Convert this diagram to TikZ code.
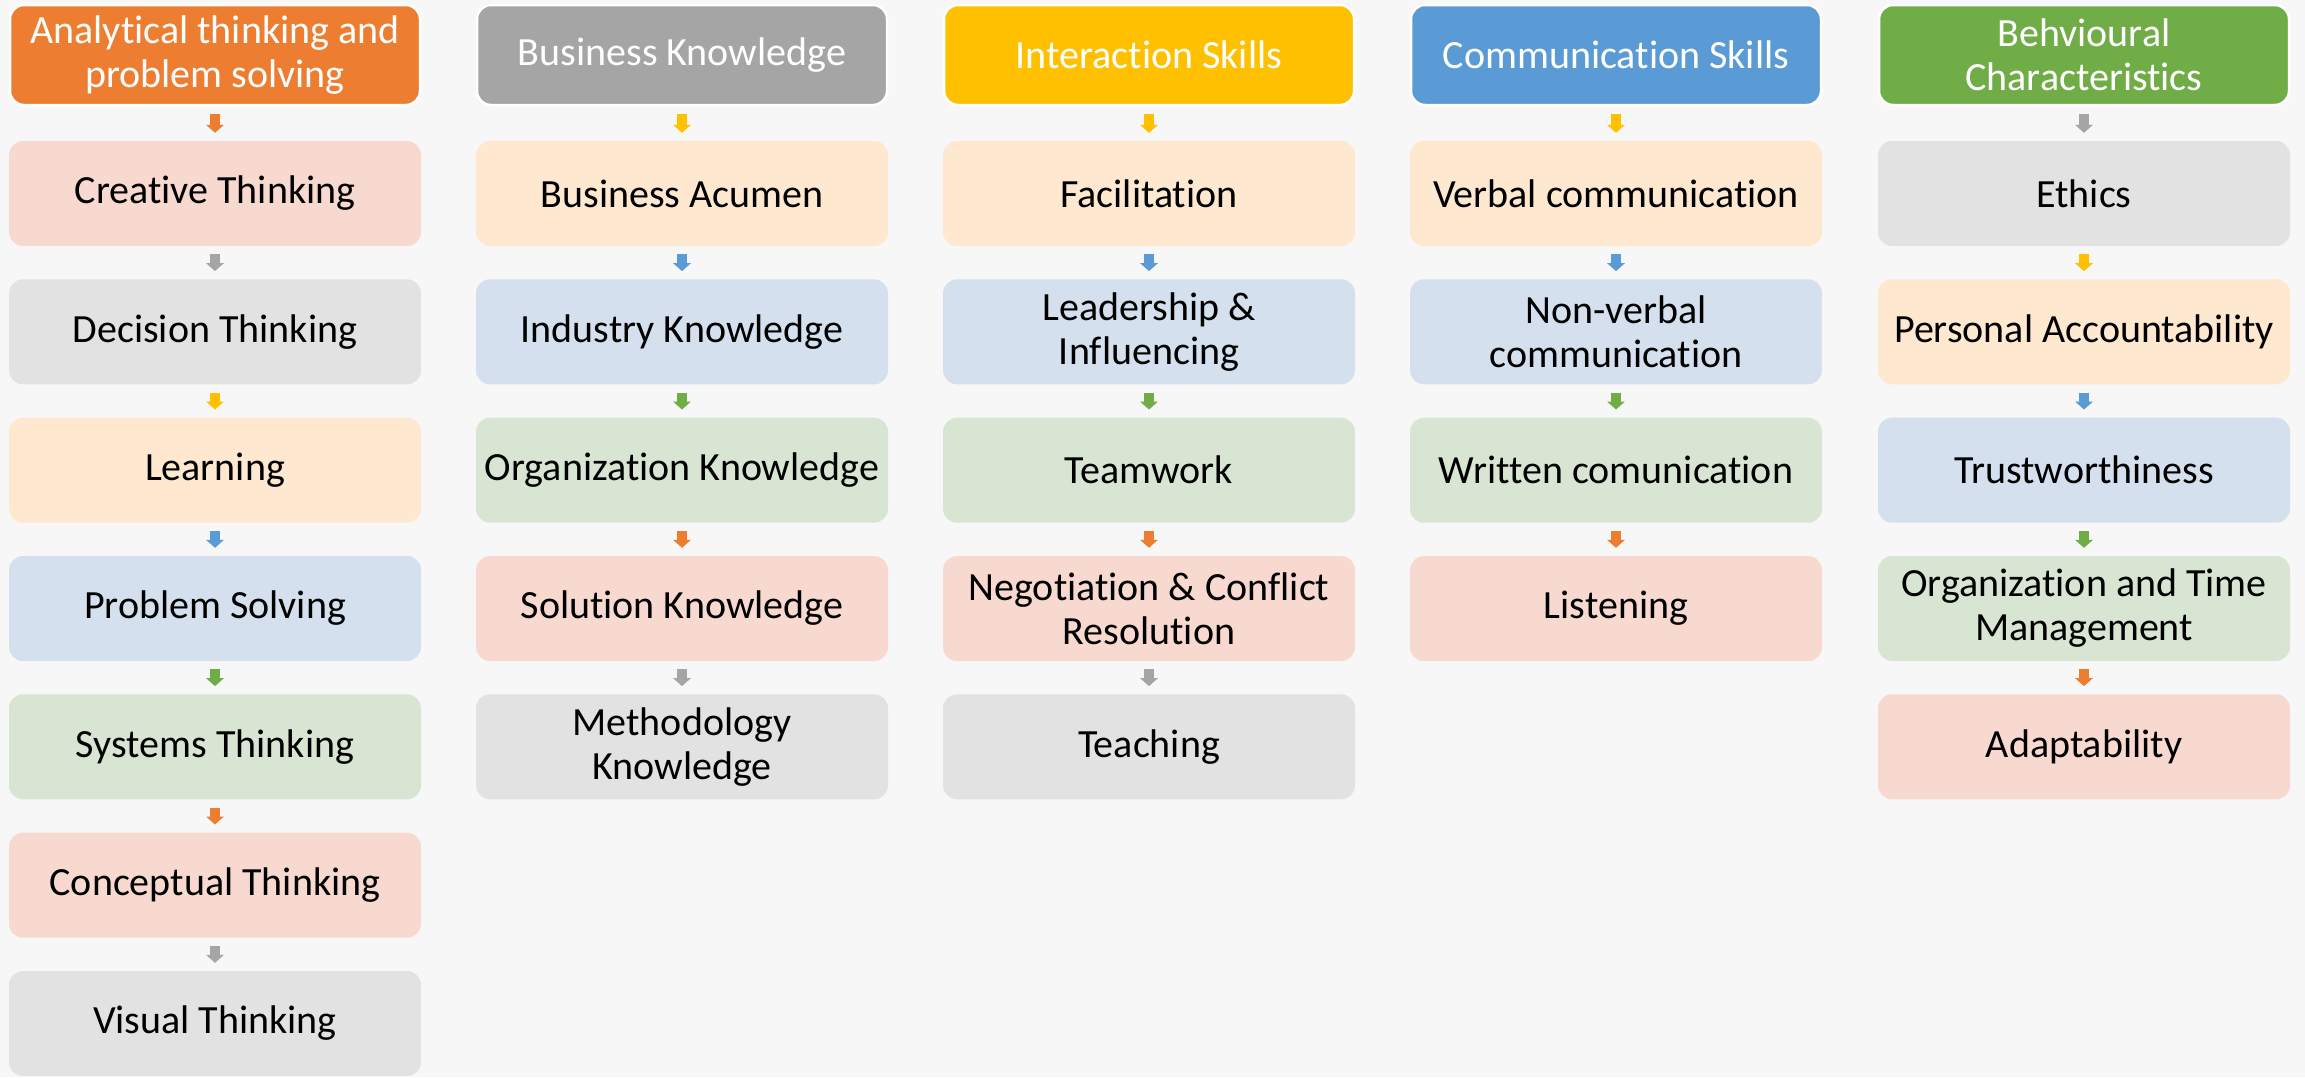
\documentclass[tikz,border=0pt]{standalone}
\usepackage{fontspec}
\setmainfont{Carlito}[Ligatures=NoCommon]
\usetikzlibrary{arrows.meta}

% accent colours and their light tints
\definecolor{bgcol}{HTML}{F7F7F7}
\definecolor{cOrange}{HTML}{ED7D31}
\definecolor{cGrey}{HTML}{A5A5A5}
\definecolor{cGold}{HTML}{FFC000}
\definecolor{cBlue}{HTML}{5B9BD5}
\definecolor{cGreen}{HTML}{70AD47}
\definecolor{lOrange}{HTML}{F8D9CF}
\definecolor{lGrey}{HTML}{E2E2E2}
\definecolor{lGold}{HTML}{FEE8CF}
\definecolor{lBlue}{HTML}{D4E0EE}
\definecolor{lGreen}{HTML}{D9E5D3}

\begin{document}
\begin{tikzpicture}[x=1pt,y=-1pt,
  base/.style={rounded corners=14pt, align=center, inner sep=0pt,
    font=\fontsize{40}{44}\selectfont},
  head/.style={base, minimum width=410pt, minimum height=100pt,
    text=white, draw=white, line width=2.5pt},
  item/.style={base, minimum width=412pt, minimum height=105pt, text=black},
  hO/.style={head, fill=cOrange}, hG/.style={head, fill=cGrey},
  hY/.style={head, fill=cGold},   hB/.style={head, fill=cBlue},
  hN/.style={head, fill=cGreen},
  iO/.style={item, fill=lOrange}, iG/.style={item, fill=lGrey},
  iY/.style={item, fill=lGold},   iB/.style={item, fill=lBlue},
  iN/.style={item, fill=lGreen},
  link/.style={draw=#1, line width=10pt, shorten <=8pt, shorten >=8pt,
    -{Triangle[width=18pt,length=8pt,line width=0pt,fill=#1]}},
]
\fill[bgcol] (0,0) rectangle (2305,1077);
\useasboundingbox (0,0) rectangle (2305,1077);

% column 1
\node[hO] (a0) at (215,55) {Analytical thinking and\\problem solving};
\node[iO] (a1) at (215,193.5)  {Creative Thinking};
\node[iG] (a2) at (215,331.8)  {Decision Thinking};
\node[iY] (a3) at (215,470.2)  {Learning};
\node[iB] (a4) at (215,608.5)  {Problem Solving};
\node[iN] (a5) at (215,746.8)  {Systems Thinking};
\node[iO] (a6) at (215,885.2)  {Conceptual Thinking};
\node[iG] (a7) at (215,1023.5) {Visual Thinking};
\draw[link=cOrange] (a0) -- (a1);
\draw[link=cGrey]   (a1) -- (a2);
\draw[link=cGold]   (a2) -- (a3);
\draw[link=cBlue]   (a3) -- (a4);
\draw[link=cGreen]  (a4) -- (a5);
\draw[link=cOrange] (a5) -- (a6);
\draw[link=cGrey]   (a6) -- (a7);

% column 2
\node[hG] (b0) at (682,55) {Business Knowledge};
\node[iY] (b1) at (682,193.5) {Business Acumen};
\node[iB] (b2) at (682,331.8) {Industry Knowledge};
\node[iN] (b3) at (682,470.2) {Organization Knowledge};
\node[iO] (b4) at (682,608.5) {Solution Knowledge};
\node[iG] (b5) at (682,746.8) {Methodology\\Knowledge};
\draw[link=cGold]   (b0) -- (b1);
\draw[link=cBlue]   (b1) -- (b2);
\draw[link=cGreen]  (b2) -- (b3);
\draw[link=cOrange] (b3) -- (b4);
\draw[link=cGrey]   (b4) -- (b5);

% column 3
\node[hY] (c0) at (1149,55) {Interaction Skills};
\node[iY] (c1) at (1149,193.5) {Facilitation};
\node[iB] (c2) at (1149,331.8) {Leadership \&\\Influencing};
\node[iN] (c3) at (1149,470.2) {Teamwork};
\node[iO] (c4) at (1149,608.5) {Negotiation \& Conflict\\Resolution};
\node[iG] (c5) at (1149,746.8) {Teaching};
\draw[link=cGold]   (c0) -- (c1);
\draw[link=cBlue]   (c1) -- (c2);
\draw[link=cGreen]  (c2) -- (c3);
\draw[link=cOrange] (c3) -- (c4);
\draw[link=cGrey]   (c4) -- (c5);

% column 4
\node[hB] (d0) at (1616,55) {Communication Skills};
\node[iY] (d1) at (1616,193.5) {Verbal communication};
\node[iB] (d2) at (1616,331.8) {Non-verbal\\communication};
\node[iN] (d3) at (1616,470.2) {Written comunication};
\node[iO] (d4) at (1616,608.5) {Listening};
\draw[link=cGold]   (d0) -- (d1);
\draw[link=cBlue]   (d1) -- (d2);
\draw[link=cGreen]  (d2) -- (d3);
\draw[link=cOrange] (d3) -- (d4);

% column 5
\node[hN] (e0) at (2084,55) {Behvioural\\Characteristics};
\node[iG] (e1) at (2084,193.5) {Ethics};
\node[iY] (e2) at (2084,331.8) {Personal Accountability};
\node[iB] (e3) at (2084,470.2) {Trustworthiness};
\node[iN] (e4) at (2084,608.5) {Organization and Time\\Management};
\node[iO] (e5) at (2084,746.8) {Adaptability};
\draw[link=cGrey]   (e0) -- (e1);
\draw[link=cGold]   (e1) -- (e2);
\draw[link=cBlue]   (e2) -- (e3);
\draw[link=cGreen]  (e3) -- (e4);
\draw[link=cOrange] (e4) -- (e5);
\end{tikzpicture}
\end{document}
